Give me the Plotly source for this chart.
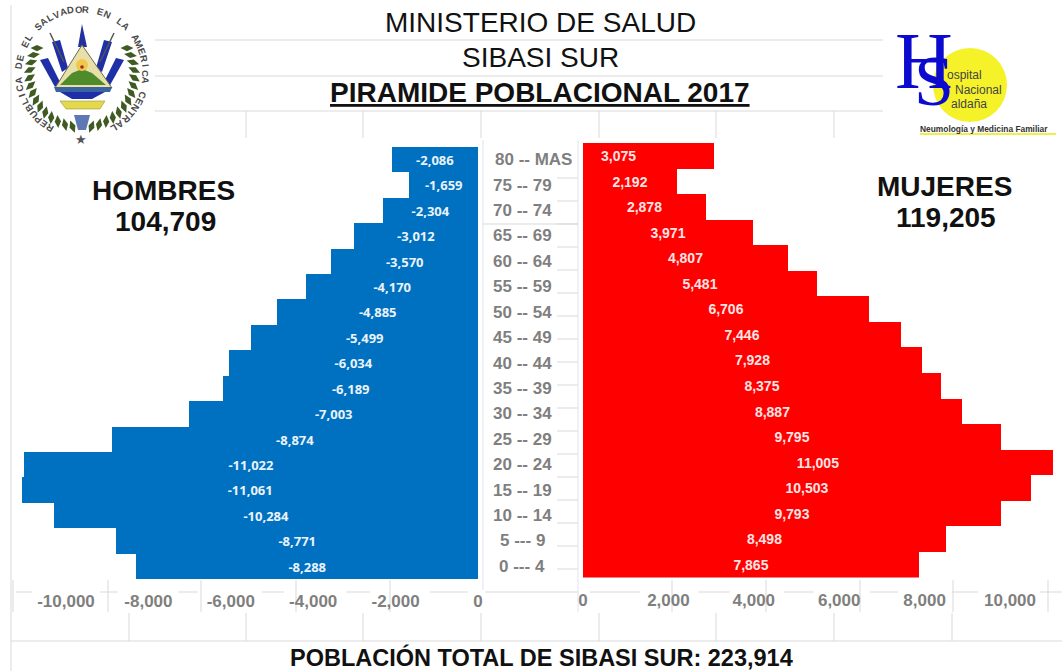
import math
import plotly.graph_objects as go

categories = ["0 --- 4", "5 --- 9", "10 -- 14", "15 -- 19", "20 -- 24", "25 -- 29", "30 -- 34", "35 -- 39", "40 -- 44",
              "45 -- 49", "50 -- 54", "55 -- 59", "60 -- 64", "65 -- 69", "70 -- 74", "75 -- 79", "80 -- MAS"]
hombres = [-8288, -8771, -10284, -11061, -11022, -8874, -7003, -6189, -6034, -5499, -4885, -4170, -3570, -3012, -2304, -1659, -2086]
mujeres = [7865, 8498, 9793, 10503, 11005, 9795, 8887, 8375, 7928, 7446, 6706, 5481, 4807, 3971, 2878, 2192, 3075]
left_ticks = [-10000, -8000, -6000, -4000, -2000, 0]
right_ticks = [0, 2000, 4000, 6000, 8000, 10000]
left_tick_labels = ["-10,000", "-8,000", "-6,000", "-4,000", "-2,000", "0"]
right_tick_labels = ["0", "2,000", "4,000", "6,000", "8,000", "10,000"]

W, H = 1062, 671
FONT = "Liberation Sans"
GRID = "#d9d9d9"


def px(x):
    return x / W


def py(y):
    return 1 - y / H


def poly(points, fill, line=None, width=0):
    d = "M " + " L ".join(f"{px(x):.5f},{py(y):.5f}" for x, y in points) + " Z"
    return dict(type="path", xref="paper", yref="paper", path=d, fillcolor=fill,
                line=dict(color=line or fill, width=width), layer="above")


def seg(x0, y0, x1, y1, color=GRID, width=1, layer="below"):
    return dict(type="line", xref="paper", yref="paper", x0=px(x0), x1=px(x1), y0=py(y0), y1=py(y1),
                line=dict(color=color, width=width), layer=layer)


def circle(cx, cy, r, fill, line=None, width=0, layer="above"):
    return dict(type="circle", xref="paper", yref="paper", x0=px(cx - r), x1=px(cx + r), y0=py(cy + r), y1=py(cy - r),
                fillcolor=fill, line=dict(color=line or fill, width=width), layer=layer)


def text(x, y, s, size, color="#111111", bold=False, anchor="center", family=FONT, angle=0):
    return dict(xref="paper", yref="paper", x=px(x), y=py(y), text=f"<b>{s}</b>" if bold else s, showarrow=False,
                xanchor=anchor, yanchor="middle", textangle=angle, font=dict(size=size, color=color, family=family))


fig = go.Figure()
fig.add_trace(go.Bar(
    y=categories, x=hombres, orientation="h", xaxis="x", yaxis="y", marker=dict(color="#0070C0", line=dict(width=0)),
    text=[f"{v:,}" for v in hombres], textposition="inside", insidetextanchor="middle", textangle=0,
    insidetextfont=dict(color="#EAF3FA", size=13, family="Open Sans", weight="bold"), cliponaxis=False, showlegend=False))
fig.add_trace(go.Bar(
    y=categories, x=mujeres, orientation="h", xaxis="x2", yaxis="y2", marker=dict(color="#FF0000", line=dict(width=0)),
    text=[f"{v:,}" if i < len(mujeres) - 1 else "" for i, v in enumerate(mujeres)], textposition="inside",
    insidetextanchor="middle", textangle=0,
    insidetextfont=dict(color="#FFE4E4", size=14, family=FONT, weight="bold"), cliponaxis=False, showlegend=False))

shapes, ann = [], []

# chart furniture
for y in (40, 76, 111):
    shapes.append(seg(155, y, 883, y))
for x in (246, 363, 481, 599, 716, 834):
    shapes.append(seg(x, 111, x, 138))
for x in (129, 246, 363, 481, 599, 716, 834, 952):
    shapes.append(seg(x, 613, x, 641))
shapes.append(seg(11, 641, 1062, 641))
shapes.append(seg(11, 5, 11, 671))
shapes.append(seg(483, 140, 483, 590, "#dde3ee"))
shapes.append(seg(578, 140, 578, 612, "#dde3ee"))
for a, b in ((16, 32), (100, 118), (178, 198), (262, 284), (346, 370), (430, 468), (485, 578),
             (590, 640), (698, 730), (784, 814), (870, 898), (952, 978), (1040, 1062)):
    shapes.append(seg(a, 592, b, 592))
for x in (13, 108, 201, 296, 390, 672, 766, 860, 953, 1048):
    shapes.append(seg(x, 580, x, 612))
for y in (178, 201, 224, 247, 270, 293, 316, 339, 362, 385, 408, 431, 454, 477, 500, 523, 546, 569):
    shapes.append(seg(557, y, 578, y))
shapes.append(seg(483, 224, 578, 224))

# titles
ann.append(text(540, 22, "MINISTERIO DE SALUD", 28))
ann.append(text(540, 57, "SIBASI SUR", 28))
ann.append(text(540, 92, "<u>PIRAMIDE POBLACIONAL 2017</u>", 28, bold=True))
ann.append(text(163, 190, "HOMBRES", 28, bold=True))
ann.append(text(165, 221, "104,709", 28, bold=True))
ann.append(text(944, 186, "MUJERES", 28, bold=True))
ann.append(text(946, 217, "119,205", 28, bold=True))
ann.append(text(541, 657, "POBLACIÓN TOTAL DE SIBASI SUR: 223,914", 23.5, bold=True))

# age labels and the one off-centre value label
for c in categories:
    ann.append(dict(xref="paper", yref="y", x=px(522), y=c, text=f"<b>{c}</b>", showarrow=False, xanchor="center",
                    xshift=11 if "MAS" in c else 0, font=dict(size=17, color="#7f7f7f", family=FONT)))
ann.append(dict(xref="x2", yref="y2", x=mujeres[-1] / 2, y=categories[-1], text=f"<b>{mujeres[-1]:,}</b>", showarrow=False,
                xshift=-30, font=dict(size=14, color="#FFE4E4", family=FONT)))

# hospital logo
shapes.append(circle(970, 85, 37, "#F6F22A"))
ann.append(text(924, 61, "H", 80, color="#0B0BD0", family="Liberation Serif"))
ann.append(text(934, 81, "S", 72, color="#0B0BD0", family="Liberation Serif"))
ann.append(text(945, 75, "ospital", 12, color="#444444", anchor="left"))
ann.append(text(953, 90, "Nacional", 12, color="#444444", anchor="left"))
ann.append(text(949, 104, "aldaña", 12, color="#444444", anchor="left"))
ann.append(text(984, 129, "Neumología y Medicina Familiar", 8.4, color="#333333", bold=True))
shapes.append(seg(920, 134, 1056, 134, "#EEF04A", 2, "above"))

# coat of arms
cx, cy, R = 82, 73, 64
motto = "REPUBLICA DE EL SALVADOR EN LA AMERICA CENTRAL"
start, end = -150, 150
for i, ch in enumerate(motto):
    a = start + (end - start) * i / (len(motto) - 1)
    r = math.radians(a)
    ann.append(text(cx + R * math.sin(r), cy - R * math.cos(r), ch, 9.5, color="#4a4a4a", bold=True, angle=a))
ann.append(text(81, 139, "★", 13, color="#555555"))
for sign in (-1, 1):
    def m(p, s=sign):
        return p if s < 0 else (2 * cx - p[0], p[1])
    for k in range(14):
        t = math.radians(55 + k * 8.5)
        lx, ly = cx + sign * 47 * math.sin(t), cy + 2 - 47 * math.cos(t)
        o = t + math.radians(35)
        dx, dy = sign * 13 * math.sin(o), -13 * math.cos(o)
        nx, ny = -dy * 0.24, dx * 0.24
        shapes.append(poly([(lx, ly), (lx + dx / 2 + nx, ly + dy / 2 + ny), (lx + dx, ly + dy),
                            (lx + dx / 2 - nx, ly + dy / 2 - ny)], "#3f5a22"))
    for pts in (((52, 42), (60, 40), (68, 68), (62, 72)), ((40, 60), (48, 58), (60, 82), (55, 87))):
        shapes.append(poly([m(p) for p in pts], "#1f2fa8"))
    a0, a1 = m((50, 33)), m((64, 62))
    shapes.append(seg(a0[0], a0[1], a1[0], a1[1], "#555555", 1.5, "above"))
shapes.append(poly([(82, 24), (78, 47), (87, 47)], "#23309f"))
shapes.append(poly([(82, 45), (55, 88), (112, 88)], "#e9dfa8", "#6b6b4a", 1))
shapes.append(poly([(60, 85), (72, 73), (82, 69), (92, 73), (106, 85)], "#4f8a2b"))
shapes.append(circle(82, 65, 6, "#f0c94a"))
shapes.append(circle(82, 67, 1.8, "#a02a20"))
shapes.append(poly([(54, 87), (112, 87), (110, 92), (56, 92)], "#3a62a0"))
shapes.append(poly([(60, 92), (105, 92), (92, 99), (72, 99)], "#1f2fa8"))
shapes.append(poly([(60, 101), (105, 101), (100, 109), (66, 109)], "#e4d94a", "#8a8430", 0.5))
shapes.append(poly([(74, 115), (90, 115), (86, 130), (78, 130)], "#5d78b5"))

fig.update_layout(
    margin=dict(l=0, r=0, t=0, b=0), width=W, height=H, autosize=False, bargap=0, showlegend=False,
    paper_bgcolor="white", plot_bgcolor="rgba(0,0,0,0)", shapes=shapes, annotations=ann,
    font=dict(family=FONT),
    xaxis=dict(domain=[px(478 - 11500 * 0.0412), px(478)], range=[-11500, 0], anchor="y", tickmode="array",
               tickvals=left_ticks, ticktext=left_tick_labels, showgrid=False, zeroline=False, showline=False, automargin=False,
               ticks="", ticklabelstandoff=10, tickfont=dict(size=17, color="#7f7f7f", family=FONT, weight="bold")),
    xaxis2=dict(domain=[px(583), px(583 + 11200 * 0.0427)], range=[0, 11200], anchor="y2", tickmode="array",
                tickvals=right_ticks, ticktext=right_tick_labels, showgrid=False, zeroline=False, showline=False, automargin=False,
                ticks="", ticklabelstandoff=10, tickfont=dict(size=17, color="#7f7f7f", family=FONT, weight="bold")),
    yaxis=dict(domain=[py(579), py(147)], anchor="x", type="category", categoryorder="array", categoryarray=categories,
               showticklabels=False, showgrid=False, zeroline=False, ticks="", automargin=False),
    yaxis2=dict(domain=[py(577.5), py(143)], anchor="x2", type="category", categoryorder="array", categoryarray=categories,
                showticklabels=False, showgrid=False, zeroline=False, ticks="", automargin=False),
)
fig.write_html("out.html", post_script="document.body.style.margin='0';document.documentElement.style.overflow='hidden';",
               config=dict(displayModeBar=False))
